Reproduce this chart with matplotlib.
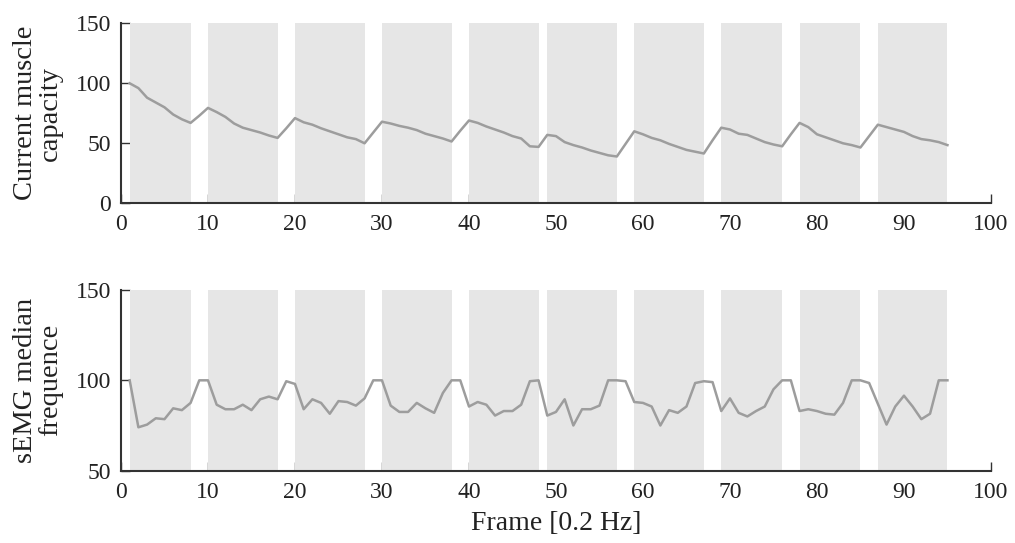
import numpy as np
import matplotlib
matplotlib.use("Agg")
import matplotlib.pyplot as plt

plt.rcParams['font.family'] = ['Liberation Serif', 'DejaVu Serif']

# frame index (0.2 Hz)
frames = np.arange(1, 96)

# current muscle capacity
capacity = [100, 96, 88, 84, 80, 74, 70, 67, 73, 79.5,
            76, 72, 66.5, 63, 61, 59, 56.5, 54.5, 62.5, 71,
            67.5, 65.5, 62.5, 60, 57.5, 55, 53.5, 50, 59, 68,
            66.5, 64.5, 63, 61, 58, 56, 54, 51.5, 60.5, 69,
            67, 64, 61.5, 59, 56, 54, 47.5, 47, 57, 56,
            51, 48.5, 46.5, 44, 42, 40, 39, 49.5, 60, 57.5,
            54.5, 52.5, 49.5, 47, 44.5, 43, 41.5, 52.5, 63, 61.5,
            58, 57, 54, 51, 49, 47.5, 57.5, 67, 63.5, 57.5,
            55, 52.5, 50, 48.5, 46.5, 56, 65.5, 63.5, 61.5, 59.5,
            56, 53.5, 52.5, 51, 48.5]

# sEMG median frequency
median_freq = [100, 74, 75.5, 79, 78.5, 84.5, 83.5, 87.5, 100, 100,
               86.5, 84, 84, 86.5, 83.5, 89.5, 91, 89.5, 99.5, 98,
               84, 89.5, 87.5, 81.5, 88.5, 88, 86, 90, 100, 100,
               86, 82.5, 82.5, 87.5, 84.5, 82, 93, 100, 100, 85.5,
               88, 86.5, 80.5, 83, 83, 86.5, 99.5, 100, 80.5, 82.5,
               89.5, 75, 84, 84, 86, 100, 100, 99.5, 88, 87.5,
               85.5, 75, 83.5, 82, 85.5, 98.5, 99.5, 99, 83, 90,
               82, 80, 83, 85.5, 95, 100, 100, 83, 84, 83,
               81.5, 81, 87.5, 100, 100, 98.5, 87, 75.5, 85.5, 91.5,
               85.5, 78.5, 81.5, 100, 100]

# exertion periods (shaded)
band_start = [1, 10, 20, 30, 40, 49, 59, 69, 78, 87]
band_end = [8, 18, 28, 38, 48, 57, 67, 76, 85, 95]

line_color = '#9d9d9d'
band_color = '#e6e6e6'
axis_color = '#333333'

fig = plt.figure(figsize=(10.15, 5.43), dpi=100)
ax1 = fig.add_axes([0.1192, 0.6256, 0.8571, 0.3315])
ax2 = fig.add_axes([0.1192, 0.1332, 0.8571, 0.3328])

for ax, y, ylim, yticks, label in [
        (ax1, capacity, (0, 150), [0, 50, 100, 150], 'Current muscle\ncapacity'),
        (ax2, median_freq, (50, 150), [50, 100, 150], 'sEMG median\nfrequence')]:
    ax.set_axisbelow(True)
    for s, e in zip(band_start, band_end):
        ax.axvspan(s, e, color=band_color, lw=0, zorder=1)
    ax.plot(frames, y, color=line_color, lw=1.8, zorder=3)
    ax.set_xlim(0, 100)
    ax.set_ylim(*ylim)
    ax.set_xticks(np.arange(0, 101, 10))
    ax.set_yticks(yticks)
    for side in ['top', 'right']:
        ax.spines[side].set_visible(False)
    for side in ['left', 'bottom']:
        ax.spines[side].set_linewidth(1.5)
        ax.spines[side].set_color(axis_color)
    ax.tick_params(direction='in', length=6.5, width=1, color=axis_color,
                   labelsize=17, labelcolor='#222222')
    ax.tick_params(axis='x', pad=8)
    ax.tick_params(axis='y', pad=7)
    ax.set_ylabel(label, fontsize=20.5, color='#222222', linespacing=1.0)
    ax.yaxis.set_label_coords(-0.067, 0.5)

ax2.set_xlabel('Frame [0.2 Hz]', fontsize=20, color='#222222', labelpad=6)

fig.savefig('out.png', dpi=100)
